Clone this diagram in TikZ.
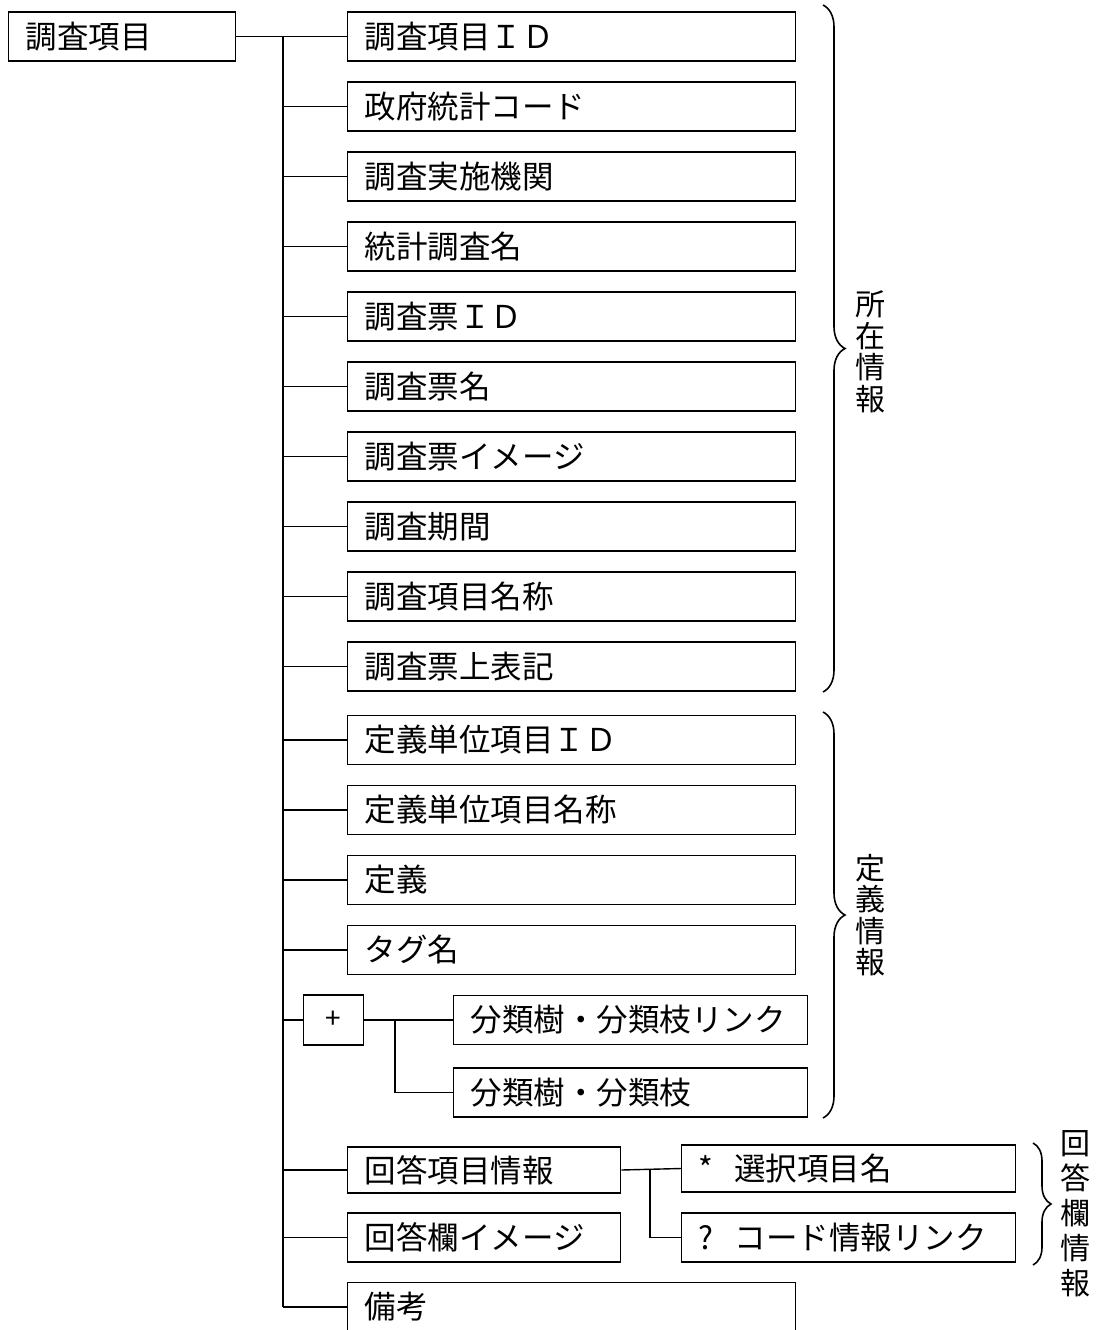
\documentclass[tikz,border=0pt]{standalone}
\usepackage{fontspec}
\setmainfont{Noto Sans CJK JP}
\usetikzlibrary{decorations.pathreplacing}
\begin{document}
\begin{tikzpicture}[x=1pt,y=1pt,
  box/.style={draw, line width=1.4pt, minimum height=49pt, anchor=west, inner xsep=17pt, inner ysep=0pt, align=left, font=\fontsize{31.5}{33}\selectfont},
  mainbox/.style={box, text width=414pt},
  link/.style={line width=1.4pt},
  brc/.style={decorate, decoration={brace, amplitude=22pt}, line width=1.6pt},
  vlabel/.style={align=center, font=\fontsize{30}{31.5}\selectfont, inner sep=0pt}]
\useasboundingbox (0,0) rectangle (1096,-1330);
\begin{scope}
\clip (0,0) rectangle (1096,-1330);
\node[box, text width=193pt] (root) at (8,-36.5) {調査項目};
\node[mainbox] (n1) at (347,-36.5) {調査項目ＩＤ};
\node[mainbox] (n2) at (347,-106.5) {政府統計コード};
\node[mainbox] (n3) at (347,-176.5) {調査実施機関};
\node[mainbox] (n4) at (347,-246.5) {統計調査名};
\node[mainbox] (n5) at (347,-316.5) {調査票ＩＤ};
\node[mainbox] (n6) at (347,-386.5) {調査票名};
\node[mainbox] (n7) at (347,-456.5) {調査票イメージ};
\node[mainbox] (n8) at (347,-526.5) {調査期間};
\node[mainbox] (n9) at (347,-596.5) {調査項目名称};
\node[mainbox] (n10) at (347,-666.5) {調査票上表記};
\node[mainbox] (n11) at (347,-740) {定義単位項目ＩＤ};
\node[mainbox] (n12) at (347,-810) {定義単位項目名称};
\node[mainbox] (n13) at (347,-880) {定義};
\node[mainbox] (n14) at (347,-950) {タグ名};
\node[draw, line width=1.4pt, minimum width=60pt, minimum height=50pt, inner sep=0pt, anchor=west, font=\fontsize{28}{30}\selectfont] (plus) at (303,-1020) {+};
\node[box, text width=320pt] (s1) at (453,-1020) {分類樹・分類枝リンク};
\node[box, text width=320pt] (s2) at (453,-1092.5) {分類樹・分類枝};
\node[box, text width=239pt, minimum height=46pt] (a1) at (347,-1170) {回答項目情報};
\node[box, text width=239pt] (a2) at (347,-1237.5) {回答欄イメージ};
\node[box, text width=300pt, minimum height=47pt] (c1) at (681,-1168.5) {*\ \ 選択項目名};
\node[box, text width=300pt] (c2) at (681,-1237.5) {?\ \ コード情報リンク};
\node[mainbox] (n15) at (347,-1307) {備考};
\end{scope}
\coordinate (ttop) at (283,-36.5);
\coordinate (tbot) at (283,-1307);
\draw[link] (root.east) -- (n1.west);
\draw[link] (ttop) -- (tbot);
\foreach \n in {n2,n3,n4,n5,n6,n7,n8,n9,n10,n11,n12,n13,n14,plus,a1,a2,n15}
  \draw[link] (ttop |- \n.west) -- (\n.west);
\coordinate (sb) at (395,-1020);
\draw[link] (plus.east) -- (s1.west);
\draw[link] (sb) -- (sb |- s2.west) -- (s2.west);
\coordinate (cb) at (650,-1170);
\draw[link] (a1.east) -- (c1.west);
\draw[link] (cb) -- (cb |- c2.west) -- (c2.west);
\coordinate (b1t) at (823,-5);
\coordinate (b1b) at (823,-692);
\coordinate (b2t) at (823,-712);
\coordinate (b2b) at (823,-1118);
\coordinate (b3t) at (1033,-1143);
\coordinate (b3b) at (1033,-1265);
\draw[brc] (b1t) -- (b1b);
\draw[brc] (b2t) -- (b2b);
\draw[brc, decoration={brace, amplitude=18pt}] (b3t) -- (b3b);
\node[vlabel] (l1) at (870,-352) {所\\在\\情\\報};
\node[vlabel] (l2) at (870,-915) {定\\義\\情\\報};
\node[vlabel, font=\fontsize{30}{35}\selectfont] (l3) at (1075,-1214) {回\\答\\欄\\情\\報};
\end{tikzpicture}
\end{document}
